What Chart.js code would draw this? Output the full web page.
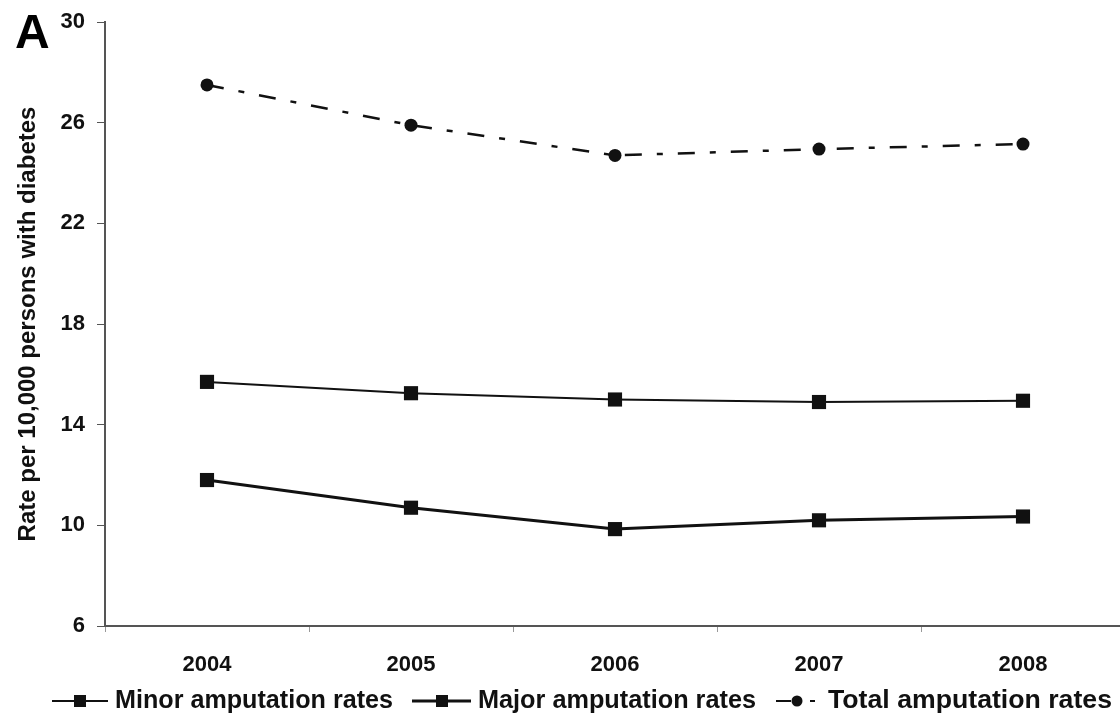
<!DOCTYPE html>
<html>
<head>
<meta charset="utf-8">
<script src="https://cdn.jsdelivr.net/npm/chart.js@4.4.0/dist/chart.umd.min.js"></script>
<style>
  html, body { margin: 0; padding: 0; background: #fff; overflow: hidden; }
  #wrap { width: 1120px; height: 728px; position: relative; overflow: hidden; }
</style>
</head>
<body>
<!-- canvas a bit wider than the window: the figure's x axis runs off the right edge -->
<div id="wrap"><canvas id="lineChart" width="1135" height="728"></canvas></div>
<script>
// data
const years = ['2004', '2005', '2006', '2007', '2008'];
const minorRates = [15.7, 15.25, 15.0, 14.9, 14.95];
const majorRates = [11.8, 10.7, 9.85, 10.2, 10.35];
const totalRates = [27.5, 25.9, 24.7, 24.95, 25.15];
const yTicks = [6, 10, 14, 18, 22, 26, 30];
const seriesNames = ['Minor amputation rates', 'Major amputation rates', 'Total amputation rates'];

const ink = '#111';
const axisInk = '#555';
const font = 'Liberation Sans';

// squeeze text into a given width (the figure uses a narrow face)
function narrowText(c, txt, x, y, w) {
    const m = c.measureText(txt).width;
    c.save();
    c.translate(x, y);
    c.scale(w / m, 1);
    c.fillText(txt, 0, 0);
    c.restore();
}

// panel letter + legend under the axis
const extras = {
    id: 'extras',
    afterDraw(chart) {
        const c = chart.ctx;
        c.save();
        c.fillStyle = '#000';
        c.font = 'bold 48px "' + font + '"';
        c.textBaseline = 'alphabetic';
        c.fillText('A', 15, 48);

        const y = 701;
        c.font = 'bold 25px "' + font + '"';
        c.textBaseline = 'middle';
        c.strokeStyle = ink;
        c.fillStyle = ink;

        // minor
        c.lineWidth = 2;
        c.beginPath(); c.moveTo(52, y); c.lineTo(108, y); c.stroke();
        c.fillRect(74, y - 6, 12, 12);
        narrowText(c, seriesNames[0], 115, y, 278);

        // major
        c.lineWidth = 3;
        c.beginPath(); c.moveTo(412, y); c.lineTo(471, y); c.stroke();
        c.fillRect(436, y - 6, 12, 12);
        narrowText(c, seriesNames[1], 478, y, 278);

        // total
        c.lineWidth = 2;
        c.beginPath(); c.moveTo(776, y); c.lineTo(791, y); c.stroke();
        c.beginPath(); c.arc(797, y, 5.5, 0, Math.PI * 2); c.fill();
        c.beginPath(); c.moveTo(810, y); c.lineTo(815, y); c.stroke();
        narrowText(c, seriesNames[2], 828, y, 284);
        c.restore();
    }
};

const ctx = document.getElementById('lineChart').getContext('2d');
new Chart(ctx, {
    type: 'line',
    data: {
        labels: years,
        datasets: [
            {
                label: seriesNames[0],
                data: minorRates,
                borderColor: ink,
                backgroundColor: ink,
                borderWidth: 2,
                pointStyle: 'rect',
                pointRadius: 10,
                pointBorderWidth: 0,
                tension: 0
            },
            {
                label: seriesNames[1],
                data: majorRates,
                borderColor: ink,
                backgroundColor: ink,
                borderWidth: 3,
                pointStyle: 'rect',
                pointRadius: 10,
                pointBorderWidth: 0,
                tension: 0
            },
            {
                label: seriesNames[2],
                data: totalRates,
                borderColor: ink,
                backgroundColor: ink,
                borderWidth: 2.5,
                borderDash: [17, 15, 6, 15],
                pointStyle: 'circle',
                pointRadius: 6.5,
                pointBorderWidth: 0,
                tension: 0
            }
        ]
    },
    options: {
        responsive: false,
        animation: false,
        layout: {
            padding: { left: 0, right: 0, top: 22, bottom: 42 }
        },
        plugins: {
            legend: { display: false },
            tooltip: { enabled: false }
        },
        scales: {
            x: {
                offset: true,
                afterFit(scale) { scale.height = 60; },
                border: { display: true, color: axisInk, width: 2 },
                grid: {
                    offset: true,
                    drawOnChartArea: false,
                    drawTicks: true,
                    tickLength: 6,
                    color: '#999'
                },
                ticks: {
                    color: '#111',
                    padding: 20,
                    font: { family: font, size: 22, weight: 'bold' }
                }
            },
            y: {
                min: 6,
                max: 30,
                afterFit(scale) {
                    scale.width = 105;
                    scale.paddingTop = 0;
                    scale.paddingBottom = 0;
                },
                afterBuildTicks(scale) { scale.ticks = yTicks.map(v => ({ value: v })); },
                border: { display: true, color: axisInk, width: 2 },
                grid: {
                    drawOnChartArea: false,
                    drawTicks: true,
                    tickLength: 8,
                    color: axisInk
                },
                ticks: {
                    color: '#111',
                    padding: 12,
                    font: { family: font, size: 22, weight: 'bold' }
                },
                title: {
                    display: true,
                    text: 'Rate per 10,000 persons with diabetes',
                    color: '#111',
                    padding: { top: 14, bottom: 0 },
                    font: { family: font, size: 24, weight: 'bold' }
                }
            }
        }
    },
    plugins: [extras]
});
</script>
</body>
</html>
